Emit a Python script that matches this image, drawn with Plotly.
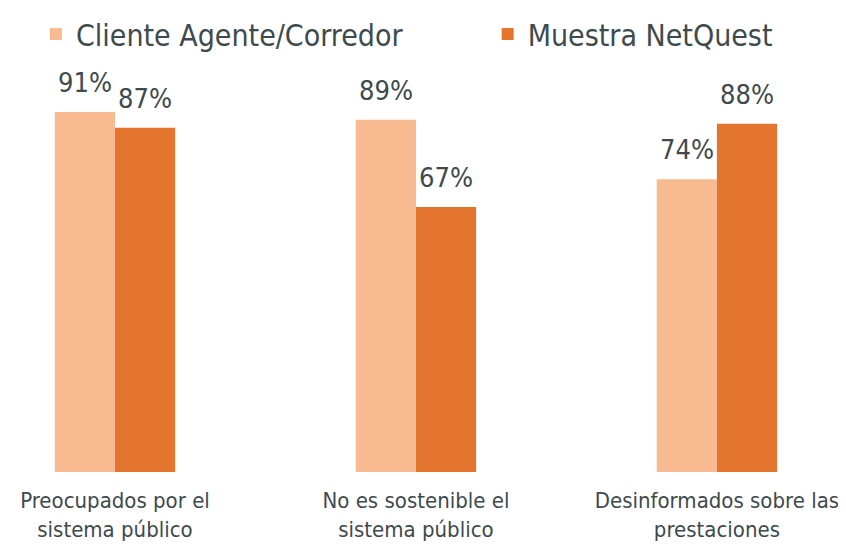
import plotly.graph_objects as go

categories = ["Preocupados por el<br>sistema público",
              "No es sostenible el<br>sistema público",
              "Desinformados sobre las<br>prestaciones"]
series_names = ["Cliente Agente/Corredor", "Muestra NetQuest"]
cliente = [91, 89, 74]
netquest = [87, 67, 88]
colors = ["#F8BB91", "#E3752E"]

FONT = "Liberation Sans Narrow, DejaVu Sans Condensed, Arial Narrow, sans-serif"
TXT = "#3E4A4C"

fig = go.Figure()
for name, vals, col, leg in zip(series_names, [cliente, netquest], colors, ["legend", "legend2"]):
    fig.add_trace(go.Bar(
        x=categories, y=vals, name=name, marker_color=col,
        marker_line_width=0, cliponaxis=False, legend=leg, showlegend=True,
    ))

# value labels above each bar
for i, vals in enumerate([cliente, netquest]):
    shift = -30 if i == 0 else 30
    for c, v in zip(categories, vals):
        fig.add_annotation(x=c, y=v, text=f"{v}%", showarrow=False,
                           xshift=shift, yshift=12, yanchor="bottom",
                           font=dict(size=27, color=TXT, family=FONT))

legend_common = dict(orientation="h", xref="container", yref="container",
                     xanchor="left", yanchor="top", y=1.0,
                     font=dict(size=30, color=TXT, family=FONT), itemwidth=30)

fig.update_layout(
    width=846, height=544, showlegend=True,
    barmode="group", bargap=0.6, bargroupgap=0,
    plot_bgcolor="white", paper_bgcolor="white",
    margin=dict(l=0, r=0, t=60, b=80, autoexpand=False),
    font=dict(family=FONT, color=TXT),
    legend=dict(x=0.033, **legend_common),
    legend2=dict(x=0.567, **legend_common),
    xaxis=dict(range=[-0.3555, 2.4555], showline=False, showgrid=False, ticks="",
               automargin=False, ticklabelstandoff=13,
               tickfont=dict(size=22, color=TXT, family=FONT)),
    yaxis=dict(range=[0, 102.1], visible=False, showgrid=False, automargin=False),
)
fig.write_html("out.html")
